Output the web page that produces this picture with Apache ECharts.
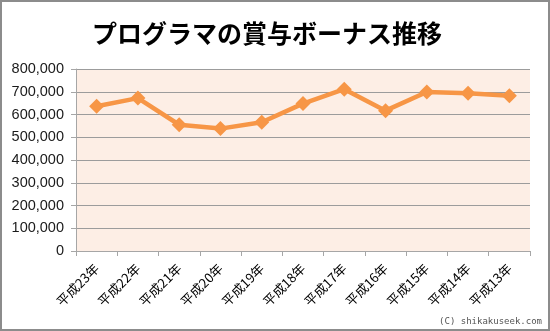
<!DOCTYPE html>
<html><head><meta charset="utf-8">
<script src="https://cdn.jsdelivr.net/npm/echarts@6/dist/echarts.min.js"></script>
<style>html,body{margin:0;padding:0;background:#fff}#c{width:550px;height:331px;box-sizing:border-box;border:2px solid #8c8c8c}</style>
</head><body><div id="c"></div>
<script>
const categories = ['平成23年','平成22年','平成21年','平成20年','平成19年','平成18年','平成17年','平成16年','平成15年','平成14年','平成13年'];
const bonus = [636000, 672000, 555000, 538000, 566000, 648000, 711000, 617000, 699000, 693000, 682000];
const yTicks = [0, 100000, 200000, 300000, 400000, 500000, 600000, 700000, 800000];
const titleText = 'プログラマの賞与ボーナス推移';
const credit = '(C) shikakuseek.com';

const chart = echarts.init(document.getElementById('c'), null, {renderer:'canvas'});
chart.setOption({
  animation:false,
  title:{text:titleText,left:260,textAlign:'center',top:14,textStyle:{fontFamily:'Noto Sans CJK JP',fontSize:25,fontWeight:'bold',color:'#000'}},
  graphic:[{type:'text',right:6,bottom:3,style:{text:credit,fontFamily:'DejaVu Sans Mono',fontSize:9,fill:'#555'}}],
  grid:{left:74,right:18,top:67,bottom:78,backgroundColor:'#FDEEE5',show:true,borderWidth:0},
  xAxis:{type:'category',data:categories,boundaryGap:true,
    axisLine:{lineStyle:{color:'#a6a6a6',width:1}},
    axisTick:{show:true,length:5,lineStyle:{color:'#a6a6a6'}},
    axisLabel:{rotate:45,fontFamily:'Noto Sans CJK JP',fontSize:13,color:'#000',margin:15,interval:0}},
  yAxis:{type:'value',min:yTicks[0],max:yTicks[yTicks.length-1],interval:100000,
    axisLine:{show:true,lineStyle:{color:'#a6a6a6'}},
    axisTick:{show:true,length:5,lineStyle:{color:'#a6a6a6'}},
    splitLine:{lineStyle:{color:'#9c9c9c',width:1}},
    axisLabel:{fontFamily:'Liberation Sans',fontSize:14.5,color:'#1a1a1a',margin:12,
      formatter:v=>v.toLocaleString('en-US')}},
  series:[{type:'line',data:bonus,symbol:'diamond',symbolSize:15,
    lineStyle:{color:'#F79646',width:4.5},itemStyle:{color:'#F79646'}}]
});
</script></body></html>
